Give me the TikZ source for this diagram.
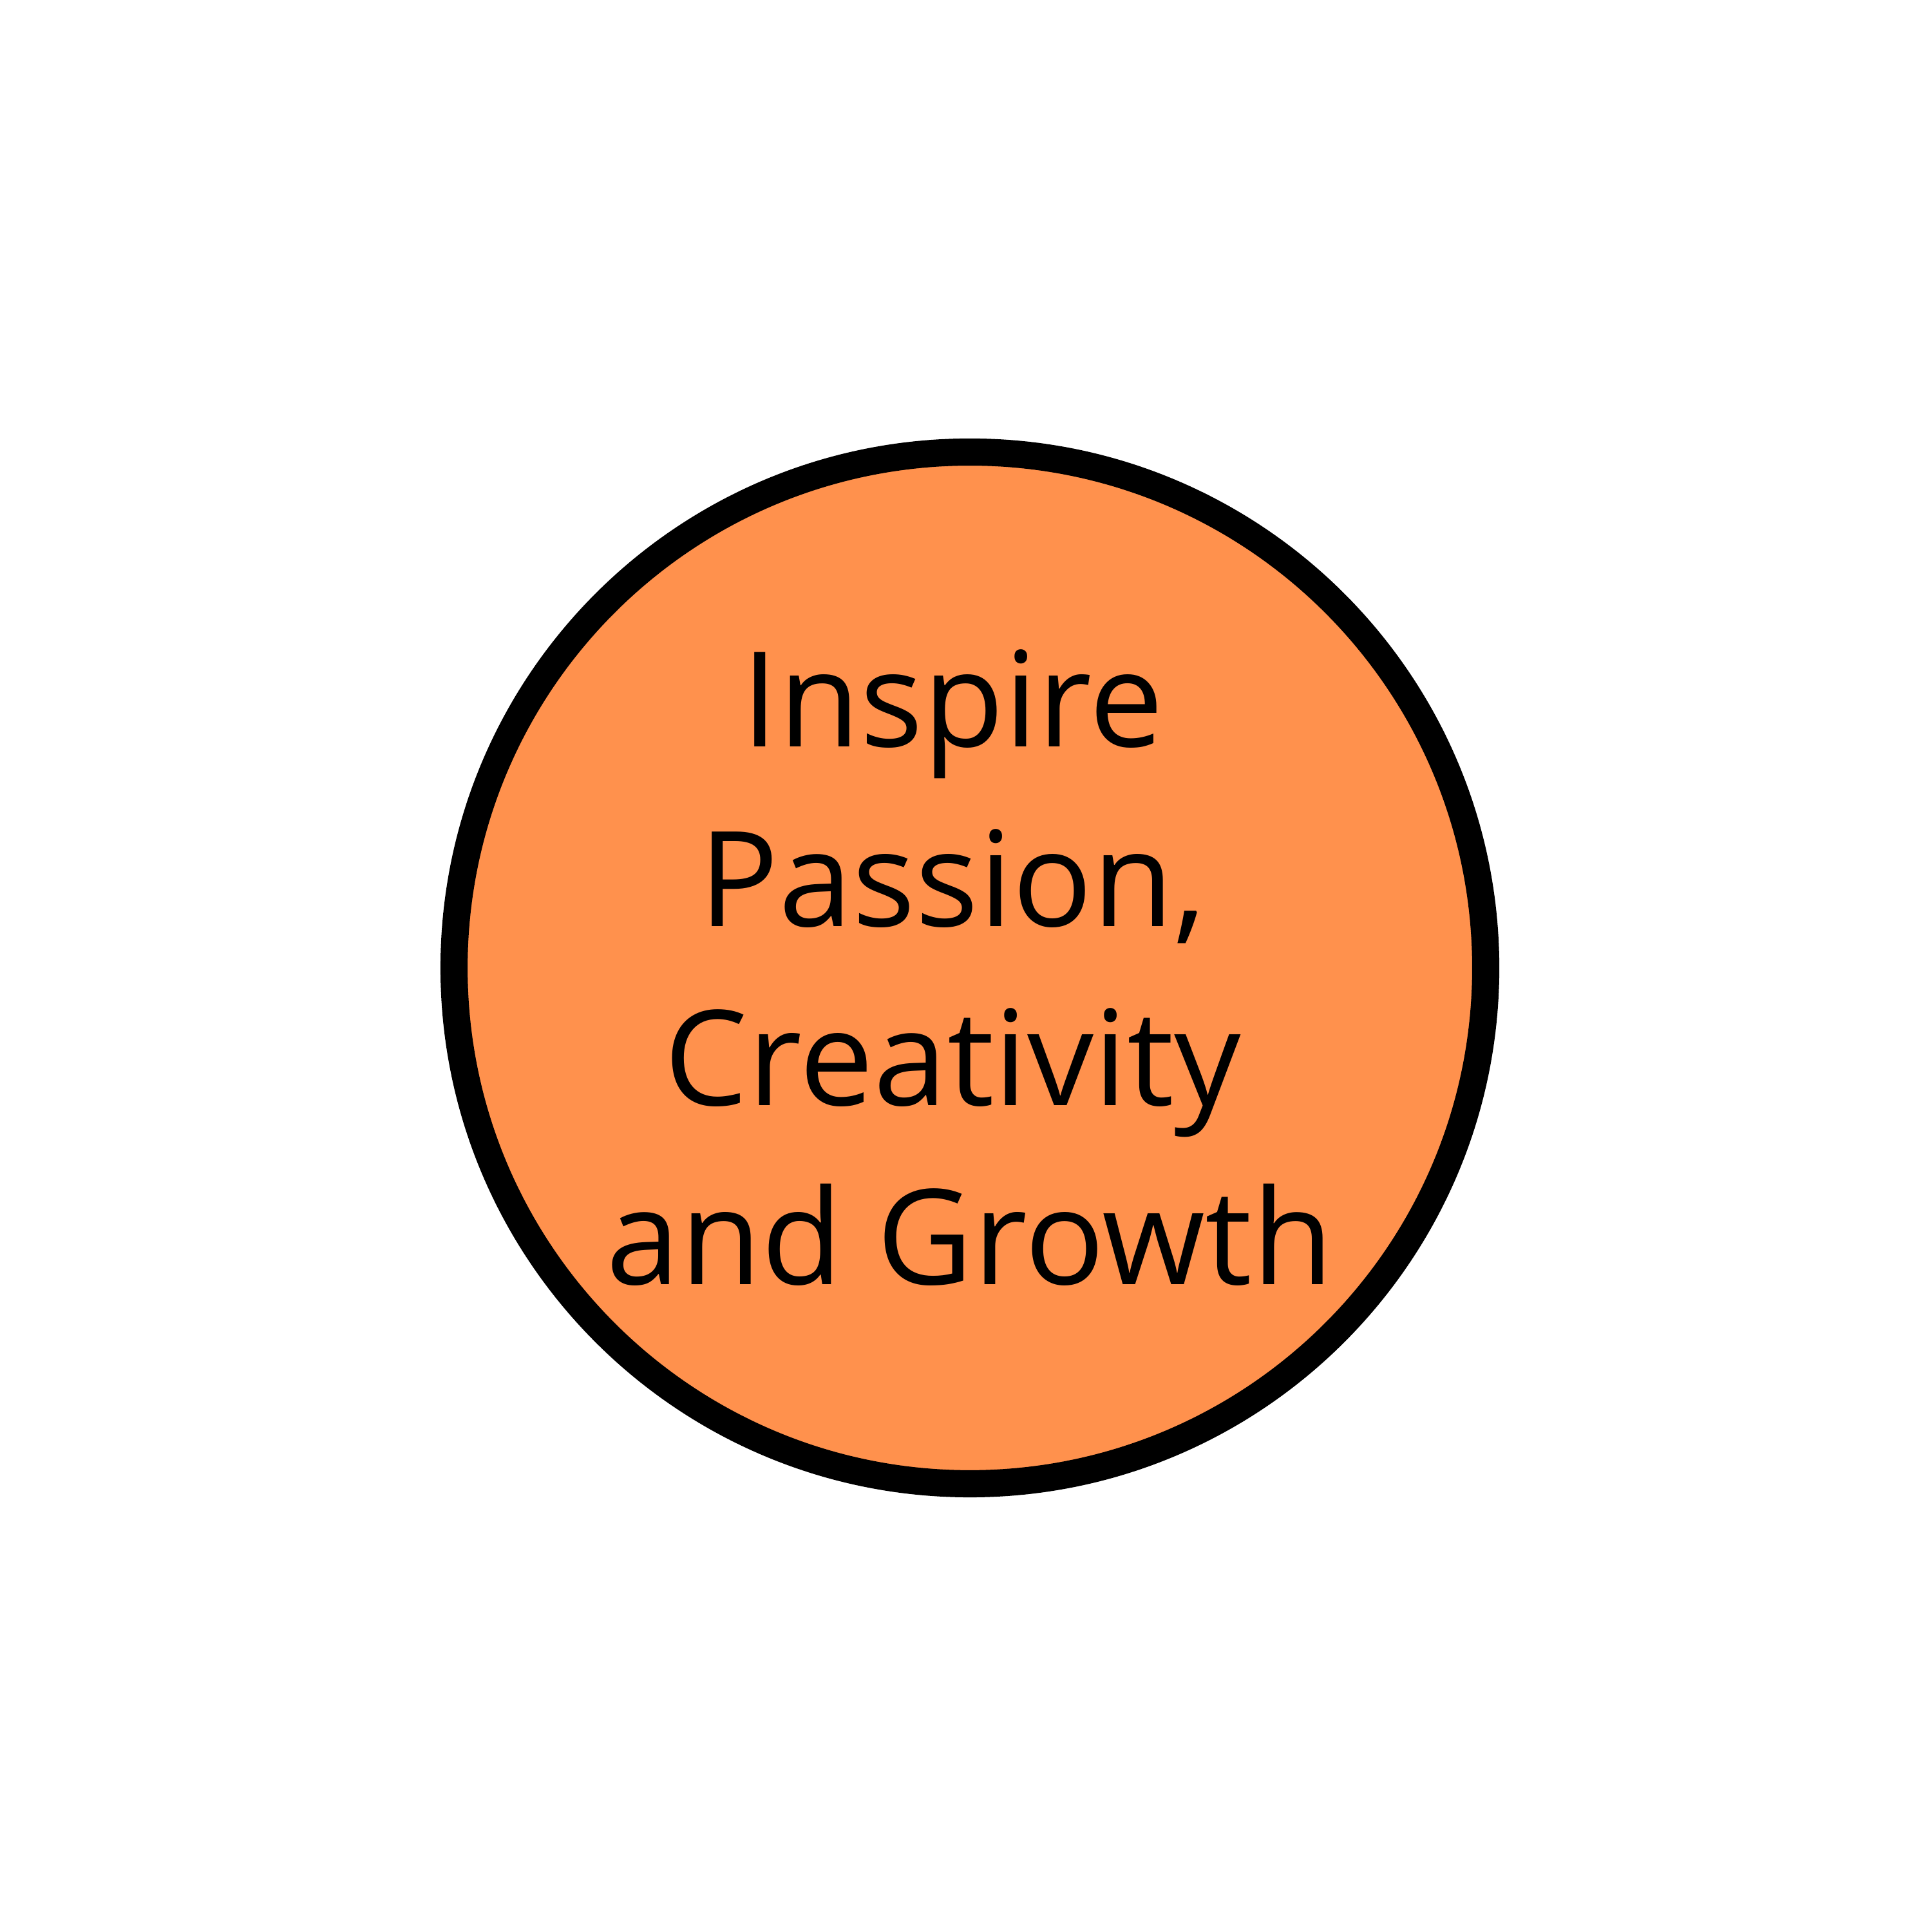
\documentclass[tikz,border=0pt]{standalone}
\usepackage{fontspec}
\setmainfont{Open Sans}
\usepackage{xcolor}
\usepackage{tikz}
\definecolor{goalorange}{HTML}{FF914D}

\begin{document}
\begin{tikzpicture}
  % Marco de la figura
  \useasboundingbox (0,0) rectangle (10,10);

  % Nodo central
  \node[circle, draw, line width=4pt, fill=goalorange, minimum size=5.34cm,
        inner sep=0pt, align=center,
        font=\fontsize{19.5pt}{26.4pt}\selectfont] (goal) at (5.02,4.99)
        {Inspire\kern0.26em\\Passion,\kern0.26em\\Creativity\kern0.26em\\and Growth};
\end{tikzpicture}
\end{document}
